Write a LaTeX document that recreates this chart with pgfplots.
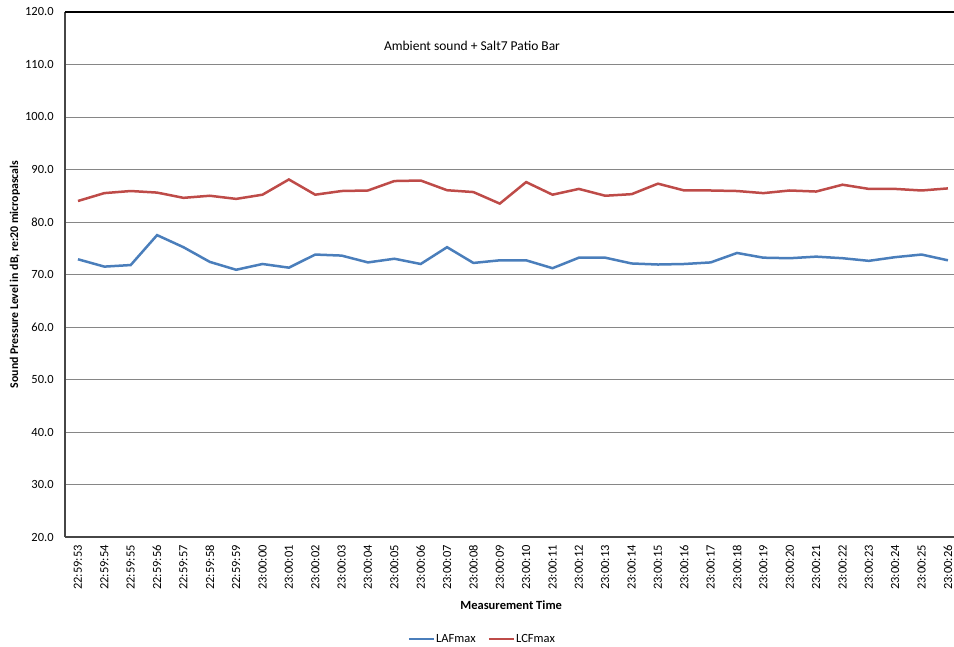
\documentclass[border=0pt]{standalone}
\usepackage{pgfplots}
\pgfplotsset{compat=1.18}
\usepackage{fontspec}
\setmainfont{Carlito}
\definecolor{lafblue}{RGB}{74,126,187}
\definecolor{lcfred}{RGB}{190,75,72}
\definecolor{gridgray}{RGB}{134,134,134}
\definecolor{axisgray}{RGB}{70,70,70}
\begin{document}
\begin{tikzpicture}[x=1pt,y=1pt]
\begin{axis}[
  at={(64.8pt,110pt)}, anchor=south west,
  scale only axis, width=889.2pt, height=525pt,
  xmin=-0.5, xmax=33.23, ymin=20, ymax=120,
  axis x line*=bottom, axis y line*=left,
  axis line style={axisgray, line width=1.6pt},
  ytick={20,30,...,120},
  xtick={0,...,33},
  xticklabels={22:59:53,22:59:54,22:59:55,22:59:56,22:59:57,22:59:58,22:59:59,23:00:00,23:00:01,23:00:02,23:00:03,23:00:04,23:00:05,23:00:06,23:00:07,23:00:08,23:00:09,23:00:10,23:00:11,23:00:12,23:00:13,23:00:14,23:00:15,23:00:16,23:00:17,23:00:18,23:00:19,23:00:20,23:00:21,23:00:22,23:00:23,23:00:24,23:00:25,23:00:26},
  major tick length=0pt,
  ymajorgrids, grid style={gridgray, line width=0.8pt},
  yticklabel style={font=\fontsize{12.5}{14}\selectfont, anchor=east, inner sep=0pt, /pgf/number format/.cd, fixed, fixed zerofill, precision=1, assume math mode=true},
  xticklabel style={font=\fontsize{12.5}{14}\selectfont, rotate=90, anchor=east, inner sep=0pt},
  yticklabel shift=11pt,
  xticklabel shift=8pt,
  xlabel={\textbf{Measurement Time}},
  xlabel style={font=\fontsize{12.5}{14}\selectfont, at={(axis description cs:0.502,-0.1295)}, anchor=center},
  ylabel={\textbf{Sound Pressure Level in dB, re:20 micropascals}},
  ylabel style={font=\fontsize{11.8}{13}\selectfont, at={(axis description cs:-0.056,0.5)}, anchor=center},
  legend columns=2,
  legend style={draw=none, font=\fontsize{12.5}{14}\selectfont, at={(axis description cs:0.469,-0.194)}, anchor=center, column sep=0pt, nodes={inner sep=1pt}},
  /tikz/every even column/.append style={column sep=11pt},
  legend image code/.code={\draw[#1, line width=2.5pt] (0pt,0pt) -- (25pt,0pt);},
  clip=false,
]
\addplot[lafblue, line width=2.5pt, mark=none] coordinates {
(0,72.9) (1,71.5) (2,71.8) (3,77.5) (4,75.2) (5,72.4) (6,70.9) (7,72.0) (8,71.3) (9,73.8)
(10,73.6) (11,72.3) (12,73.0) (13,72.0) (14,75.2) (15,72.2) (16,72.7) (17,72.7) (18,71.2) (19,73.2)
(20,73.2) (21,72.1) (22,71.9) (23,72.0) (24,72.3) (25,74.1) (26,73.2) (27,73.1) (28,73.4) (29,73.1)
(30,72.6) (31,73.3) (32,73.8) (33,72.7)};
\addlegendentry{LAFmax}
\addplot[lcfred, line width=2.5pt, mark=none] coordinates {
(0,84.0) (1,85.5) (2,85.9) (3,85.6) (4,84.6) (5,85.0) (6,84.4) (7,85.2) (8,88.1) (9,85.2)
(10,85.9) (11,86.0) (12,87.8) (13,87.9) (14,86.05) (15,85.7) (16,83.5) (17,87.6) (18,85.2) (19,86.3)
(20,85.0) (21,85.3) (22,87.3) (23,86.0) (24,86.0) (25,85.9) (26,85.5) (27,86.0) (28,85.8) (29,87.1)
(30,86.3) (31,86.3) (32,86.0) (33,86.4)};
\addlegendentry{LCFmax}
\draw[black, line width=1.8pt] (rel axis cs:0,1) -- (rel axis cs:1,1);
\end{axis}
\node[font=\fontsize{13.5}{15}\selectfont, anchor=center] at (472pt,601.3pt) {Ambient sound + Salt7 Patio Bar};
\pgfresetboundingbox
\useasboundingbox (0pt,0pt) rectangle (954pt,647pt);
\end{tikzpicture}
\end{document}
